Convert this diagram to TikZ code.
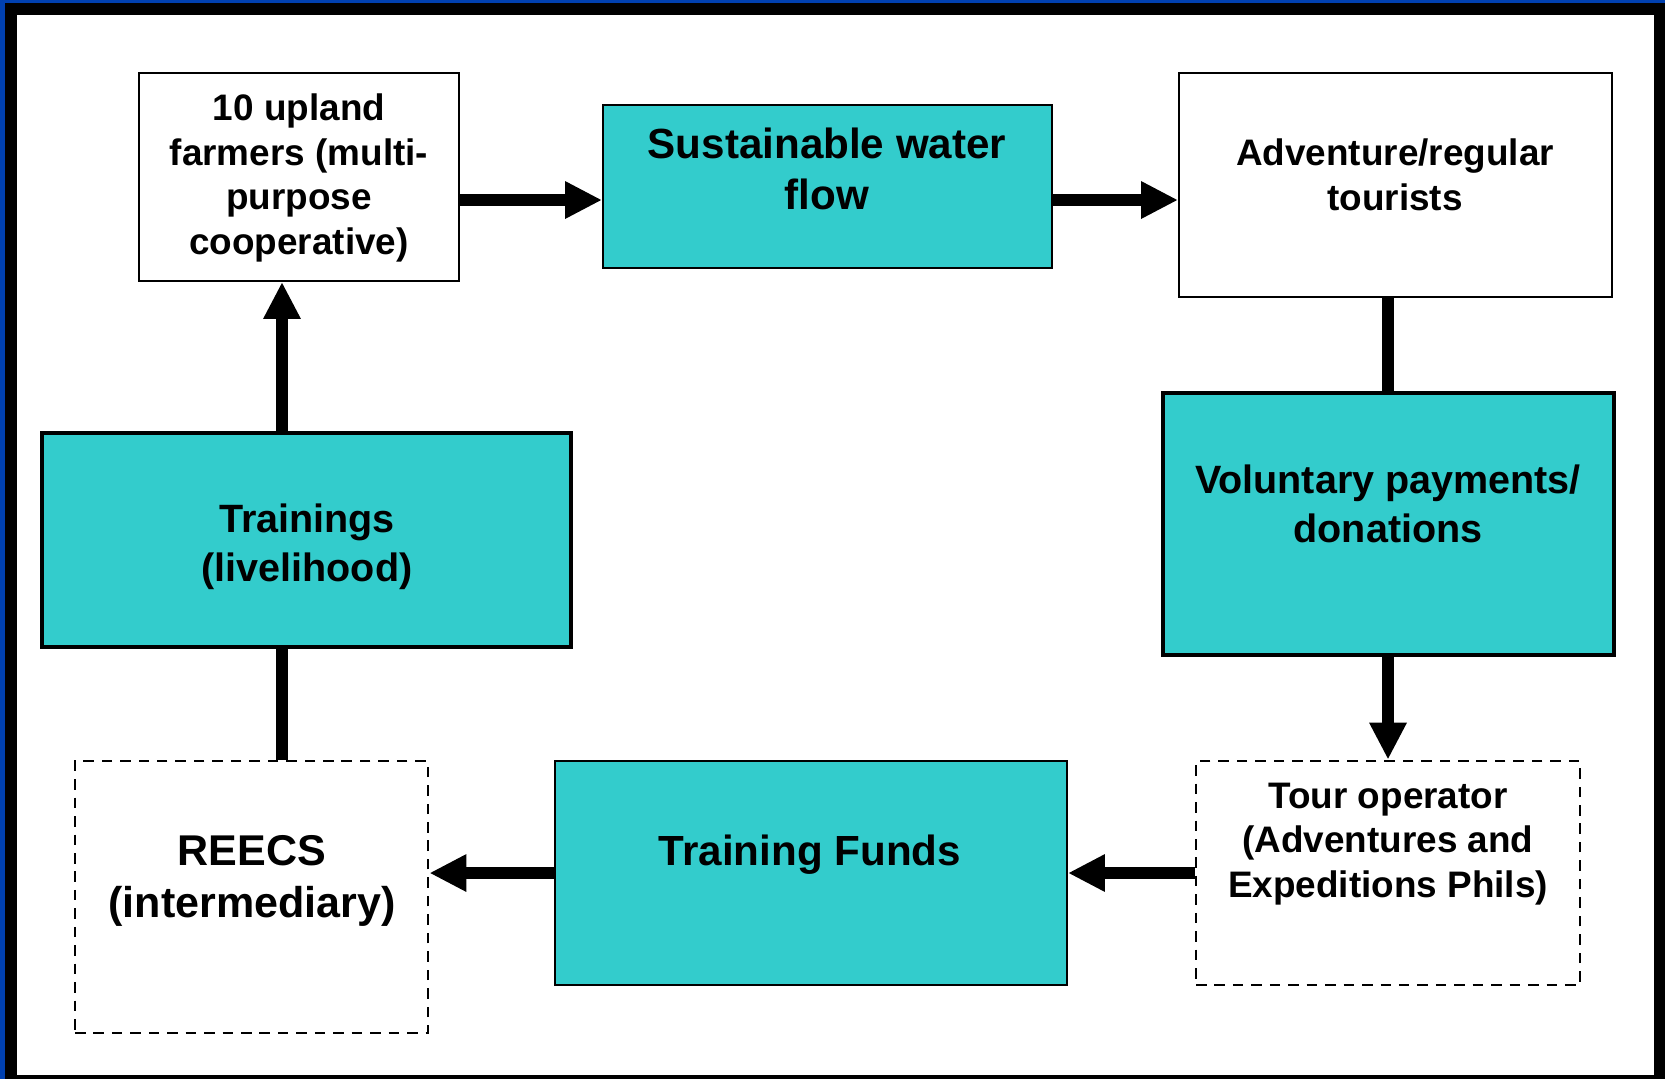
\documentclass[tikz,border=0pt]{standalone}
\usepackage{fontspec}
\setmainfont{Liberation Sans}
\usetikzlibrary{arrows.meta,fit}
\definecolor{flowteal}{RGB}{51,204,204}
\definecolor{frameblue}{RGB}{0,64,176}
\tikzset{%
plainbox/.style={draw,line width=1.1pt,inner sep=0pt},
tealbox/.style={plainbox,fill=flowteal},
thickbox/.style={tealbox,line width=2.3pt},
dashbox/.style={draw,line width=1.6pt,dash pattern=on 6pt off 4.5pt,inner sep=0pt},
boxtext/.style 2 args={align=center,font=\bfseries\fontsize{#1}{#2}\selectfont},
flow/.style={line width=6.3pt},
flowarrow/.style={flow,-{Triangle[length=0.74cm,width=0.7cm]}},
}

\begin{document}
\begin{tikzpicture}[x=0.02cm,y=-0.02cm]
        \useasboundingbox (0,0) rectangle (1665,1079);
        \fill[frameblue] (0,0) rectangle (1665,1079);
        \fill (5,3) rectangle (1665,1079);
        \fill[white] (17,15) rectangle (1654,1075);
        % boxes
        \node[plainbox,fit={(139,73) (459,281)}] (farmers) {};
        \node[tealbox,fit={(603,105) (1052,268)}] (water) {};
        \node[plainbox,fit={(1179,73) (1612,297)}] (tourists) {};
        \node[thickbox,fit={(1163,393) (1614,655)}] (donate) {};
        \node[dashbox,fit={(1196,761) (1580,985)}] (operator) {};
        \node[tealbox,fit={(555,761) (1067,985)}] (funds) {};
        \node[dashbox,fit={(75,761) (428,1033)}] (reecs) {};
        \node[thickbox,fit={(42,433) (571,647)}] (train) {};
        % texts
        \node[boxtext={21}{25.3}] (farmerslbl) at (299,178) {10 upland\\farmers (multi-\\purpose\\cooperative)};
        \node[boxtext={24}{29.5}] (waterlbl) at (827,169) {Sustainable water\\flow};
        \node[boxtext={21}{25.3}] (touristslbl) at (1395,175) {Adventure/regular\\tourists};
        \node[boxtext={22.5}{27.6}] (donatelbl) at (1388,504) {Voluntary payments/\\donations};
        \node[boxtext={21}{25.3}] (operatorlbl) at (1388,844) {Tour operator\\(Adventures and\\Expeditions Phils)};
        \node[boxtext={24}{29.5}] (fundslbl) at (810,855) {Training Funds};
        \node[boxtext={24.5}{30}] (reecslbl) at (252,881) {REECS\\(intermediary)};
        \node[boxtext={22.5}{27.6}] (trainlbl) at (307,547) {Trainings\\(livelihood)};
        % connectors
        \coordinate (toprow) at (0,200);
        \coordinate (botrow) at (0,873);
        \coordinate (leftlane) at (282,0);
        \coordinate (rightlane) at (1388,0);
        \draw[flowarrow] (farmers.east |- toprow) -- (water.west |- toprow);
        \draw[flowarrow] (water.east |- toprow) -- (tourists.west |- toprow);
        \draw[flow] (tourists.south -| rightlane) -- (donate.north -| rightlane);
        \draw[flowarrow] (donate.south -| rightlane) -- (operator.north -| rightlane);
        \draw[flowarrow] (operator.west |- botrow) -- (funds.east |- botrow);
        \draw[flowarrow] (funds.west |- botrow) -- (reecs.east |- botrow);
        \draw[flow] (reecs.north -| leftlane) -- (train.south -| leftlane);
        \draw[flowarrow] (train.north -| leftlane) -- (farmers.south -| leftlane);
\end{tikzpicture}
\end{document}
